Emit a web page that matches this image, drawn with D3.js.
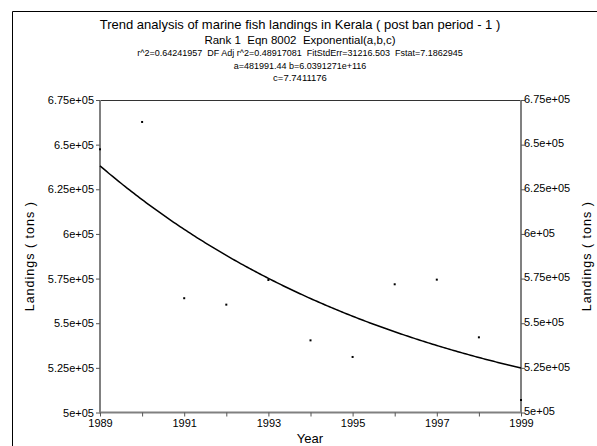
<!DOCTYPE html>
<html>
<head>
<meta charset="utf-8">
<script src="https://cdn.jsdelivr.net/npm/d3@7/dist/d3.min.js"></script>
<style>
  html, body { margin: 0; padding: 0; background: #fff; }
  svg { display: block; }
  text { font-family: "Liberation Sans", Arial, sans-serif; fill: #000; }
</style>
</head>
<body>
<svg id="chart" width="597" height="446"></svg>
<script>
// ---- data ----
const years = [1989, 1990, 1991, 1992, 1993, 1994, 1995, 1996, 1997, 1998, 1999];
const landings = [647400, 662700, 564000, 560400, 574200, 540400, 531100, 571800, 574400, 542100, 507000];
const fitA = 481991.44, fitB = 6.0391271e116, fitC = 7.7411176;
const yTickValues = [500000, 525000, 550000, 575000, 600000, 625000, 650000, 675000];
const yTickLabels = ["5e+05", "5.25e+05", "5.5e+05", "5.75e+05", "6e+05", "6.25e+05", "6.5e+05", "6.75e+05"];
const xTickValues = [1989, 1990, 1991, 1992, 1993, 1994, 1995, 1996, 1997, 1998, 1999];
const xLabelYears = [1989, 1991, 1993, 1995, 1997, 1999];
const titleLines = [
  "Trend analysis of marine fish landings in Kerala ( post ban period - 1 )",
  "Rank 1  Eqn 8002  Exponential(a,b,c)",
  "r^2=0.64241957  DF Adj r^2=0.48917081  FitStdErr=31216.503  Fstat=7.1862945",
  "a=481991.44 b=6.0391271e+116",
  "c=7.7411176"
];

const svg = d3.select("#chart");
const L = 100, R = 521, T = 100, B = 412.5;

const x = d3.scaleLinear().domain([1989, 1999]).range([L, R]);
const y = d3.scaleLinear().domain([500000, 675000]).range([B, T]);

// outer frame
svg.append("path").attr("d", `M12.5,446 V11.5 H597`).attr("fill", "none").attr("stroke", "#000").attr("stroke-width", 1);

// titles
const titleCfg = [
  { size: 13, yPos: 29 },
  { size: 11.5, yPos: 43.5 },
  { size: 9, yPos: 56 },
  { size: 9, yPos: 68.5 },
  { size: 9.5, yPos: 81 }
];
titleLines.forEach((t, i) => {
  svg.append("text").attr("x", 300).attr("y", titleCfg[i].yPos)
    .attr("text-anchor", "middle").attr("font-size", titleCfg[i].size)
    .style("white-space", "pre").attr("xml:space", "preserve").text(t);
});

// plot top border
svg.append("line").attr("x1", L).attr("x2", R).attr("y1", T + 0.5).attr("y2", T + 0.5)
  .attr("stroke", "#333").attr("stroke-width", 1);

const fmt = v => yTickLabels[yTickValues.indexOf(v)];

// left axis
const gL = svg.append("g").attr("transform", `translate(${L},0)`)
  .call(d3.axisLeft(y).tickValues(yTickValues).tickFormat(fmt).tickSize(4).tickPadding(2));
// right axis
const gR = svg.append("g").attr("transform", `translate(${R},0)`)
  .call(d3.axisRight(y).tickValues(yTickValues).tickFormat(fmt).tickSize(4).tickPadding(-1));
// bottom axis
const gB = svg.append("g").attr("transform", `translate(0,${B})`)
  .call(d3.axisBottom(x).tickValues(xTickValues)
    .tickFormat(d => xLabelYears.includes(d) ? String(d) : "").tickSize(4).tickPadding(2.5));

[gL, gR, gB].forEach(g => {
  g.select(".domain").attr("stroke", "#808080").attr("stroke-width", 2);
  g.selectAll(".tick line").attr("stroke", "#555").attr("stroke-width", 1);
  g.selectAll(".tick text").attr("font-size", 11).attr("fill", "#222")
    .attr("font-family", "'Liberation Sans', Arial, sans-serif");
});
gR.selectAll(".tick text").attr("dy", "0.2em");
gL.select(".domain").attr("d", `M0,${B}V${T}`);
gR.select(".domain").attr("d", `M0,${B}V${T}`);
gB.select(".domain").attr("d", `M${L - 1},0H${R + 1}`);

// axis titles
svg.append("text").attr("x", 310).attr("y", 443).attr("text-anchor", "middle")
  .attr("font-size", 13).text("Year");
svg.append("text").attr("transform", `translate(34,${(T + B) / 2}) rotate(-90)`)
  .attr("text-anchor", "middle").attr("font-size", 12.5).attr("letter-spacing", 1)
  .text("Landings ( tons )");
svg.append("text").attr("transform", `translate(591,${(T + B) / 2}) rotate(-90)`)
  .attr("text-anchor", "middle").attr("font-size", 12.5).attr("letter-spacing", 1)
  .text("Landings ( tons )");

// fitted curve y = a + b*exp(-x/c)
const lnB = Math.log(fitB);
const fitX = d3.range(0, 201).map(i => 1989 + i * 0.05);
const line = d3.line().x(d => x(d)).y(d => y(fitA + Math.exp(lnB - d / fitC)));
svg.append("path").datum(fitX).attr("d", line).attr("fill", "none")
  .attr("stroke", "#000").attr("stroke-width", 1.5);

// data points
svg.selectAll("rect.pt").data(years).join("rect").attr("class", "pt")
  .attr("x", (d) => x(d) - 1).attr("y", (d, i) => y(landings[i]) - 1)
  .attr("width", 2).attr("height", 2).attr("fill", "#000");
</script>
</body>
</html>
